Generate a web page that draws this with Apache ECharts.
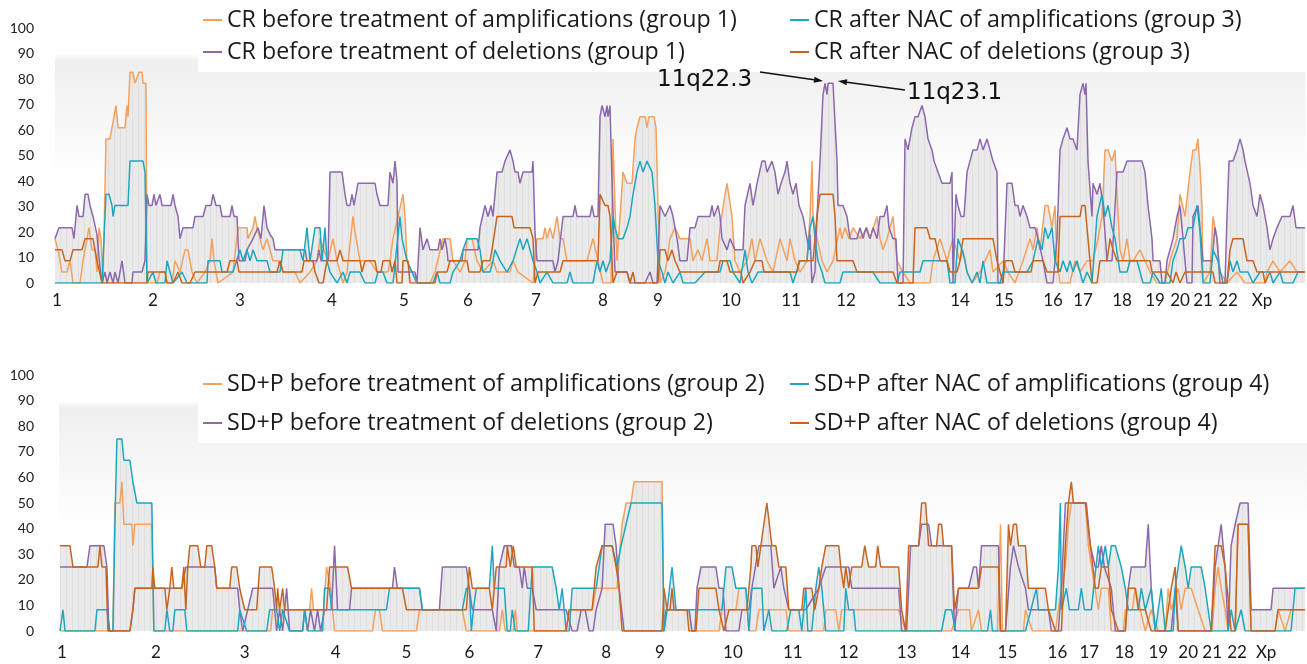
<!DOCTYPE html>
<html><head><meta charset="utf-8">
<script src="https://cdn.jsdelivr.net/npm/echarts@6/dist/echarts.min.js"></script>
<style>html,body{margin:0;padding:0;background:#fff}#c{width:1307px;height:664px}</style>
</head><body><div id="c"></div>
<script>
// ---------- axis ticks / labels ----------
const yTicks = [0,10,20,30,40,50,60,70,80,90,100];
const chromLabels = ['1','2','3','4','5','6','7','8','9','10','11','12','13','14','15','16','17','18','19','20','21','22','Xp'];
const topChromPos = [2,98,185,277,349,413,481,548,603,676,736,791,851,905,949,998,1028,1067,1100,1125,1148,1173,1207];
const bottomChromPos = [3,97,186,277,348,411,480,548,602,675,735,791,849,903,950,1000,1032,1067,1101,1131,1155,1180,1209];

// ---------- series names ----------
const topNames = ['CR before treatment of amplifications (group 1)','CR before treatment of deletions (group 1)','CR after NAC of amplifications (group 3)','CR after NAC of deletions (group 3)'];
const bottomNames = ['SD+P before treatment of amplifications (group 2)','SD+P before treatment of deletions (group 2)','SD+P after NAC of amplifications (group 4)','SD+P after NAC of deletions (group 4)'];

// ---------- top panel data: [genome position, % of patients] ----------
const crAmpBefore = [[0,17.4],[3,13],[7,4.3],[12,4.3],[15,8.7],[18,0],[25,0],[28,8.7],[32,17.4],[34,21.7],[37,13],[40,13],[42,4.3],[44,21.7],[46,17.4],[48,0],[50,0],[51,56.5],[55,56.5],[57,60.9],[61,69.6],[63,60.9],[70,60.9],[72,69.6],[73,65.2],[75,82.6],[78,82.6],[80,78.3],[82,78.3],[84,82.6],[87,82.6],[88,78.3],[91,78.3],[92,0],[102,0],[105,4.3],[110,4.3],[112,0],[117,0],[120,8.7],[125,4.3],[130,13],[133,13],[137,4.3],[142,0],[150,4.3],[155,8.7],[157,17.4],[159,8.7],[163,0],[178,4.3],[183,21.7],[192,21.7],[193,17.4],[198,21.7],[200,26.1],[202,21.7],[205,17.4],[208,13],[212,17.4],[215,13],[218,8.7],[223,8.7],[228,4.3],[240,4.3],[245,0],[255,4.3],[262,8.7],[265,17.4],[273,8.7],[278,17.4],[282,8.7],[288,0],[292,4.3],[298,26.1],[300,20],[305,8.7],[315,8.7],[322,4.3],[333,4.3],[335,8.7],[338,17.4],[343,26.1],[348,34.8],[350,26.1],[352,8.7],[357,4.3],[362,0],[375,0],[380,4.3],[388,17.4],[395,17.4],[398,8.7],[405,4.3],[410,8.7],[412,17.4],[417,17.4],[422,8.7],[428,4.3],[438,8.7],[442,4.3],[455,4.3],[458,8.7],[463,4.3],[478,0],[482,17.4],[488,17.4],[490,21.7],[492,17.4],[495,21.7],[498,17.4],[502,26.1],[505,17.4],[508,17.4],[512,8.7],[532,8.7],[538,17.4],[543,8.7],[548,0],[556,0],[558,56.5],[560,30],[562,8.7],[565,26.1],[568,43.5],[572,39.1],[577,39.1],[580,56.5],[582,60.9],[585,65.2],[590,65.2],[592,60.9],[594,65.2],[599,65.2],[601,60.9],[603,30.4],[605,0],[610,4.3],[612,8.7],[615,17.4],[620,21.7],[625,17.4],[635,17.4],[638,8.7],[643,13],[647,8.7],[652,17.4],[655,8.7],[662,8.7],[665,21.7],[670,34.8],[672,39.1],[674,39.1],[677,26.1],[680,8.7],[685,4.3],[692,8.7],[697,17.4],[700,8.7],[705,17.4],[712,8.7],[718,4.3],[725,17.4],[732,8.7],[735,17.4],[740,8.7],[745,4.3],[752,8.7],[755,26.1],[757,47.8],[758,26.1],[762,17.4],[767,8.7],[772,4.3],[778,8.7],[785,21.7],[787,17.4],[790,21.7],[794,17.4],[798,21.7],[805,17.4],[812,21.7],[815,17.4],[822,26.1],[825,17.4],[828,13],[832,17.4],[838,26.1],[842,8.7],[848,4.3],[855,0],[875,0],[878,8.7],[885,17.4],[892,8.7],[898,17.4],[905,8.7],[908,13],[912,4.3],[917,0],[925,4.3],[935,13],[938,4.3],[948,8.7],[953,4.3],[960,0],[968,8.7],[975,17.4],[978,13],[982,21.7],[985,13],[990,30.4],[993,30.4],[997,21.7],[1000,30.4],[1002,8.7],[1005,0],[1015,0],[1020,8.7],[1025,4.3],[1032,8.7],[1038,8.7],[1043,17.4],[1047,26.1],[1050,52.2],[1053,52.2],[1057,47.8],[1060,52.2],[1062,34.8],[1065,13],[1068,8.7],[1072,17.4],[1075,8.7],[1078,8.7],[1085,13],[1090,8.7],[1095,4.3],[1102,0],[1110,0],[1115,8.7],[1122,17.4],[1125,34.8],[1130,26.1],[1135,43.5],[1138,52.2],[1141,52.2],[1143,56.5],[1145,45],[1147,30.4],[1148,0],[1155,4.3],[1158,26.1],[1162,17.4],[1165,4.3],[1172,0],[1182,4.3],[1190,0],[1210,0],[1212,4.3],[1218,8.7],[1225,4.3],[1235,8.7],[1242,4.3],[1250,4.3]];

const crDelBefore = [[0,17.4],[4,21.7],[17,21.7],[19,17.4],[22,30.4],[24,26.1],[28,26.1],[30,34.8],[33,34.8],[35,30.4],[38,26.1],[42,19],[45,6],[47,0],[50,4.3],[52,0],[55,4.3],[58,0],[60,4.3],[63,0],[67,8.7],[70,0],[77,0],[78,4.3],[87,4.3],[90,8.7],[92,34.8],[94,30.4],[97,30.4],[99,34.8],[101,30.4],[103,30.4],[105,34.8],[107,30.4],[116,30.4],[118,34.8],[120,30.4],[123,26.1],[125,17.4],[128,21.7],[138,21.7],[140,26.1],[148,26.1],[151,30.4],[156,30.4],[158,34.8],[161,30.4],[165,30.4],[167,26.1],[175,26.1],[177,30.4],[179,26.1],[182,26.1],[184,8.7],[190,8.7],[192,13],[198,17.4],[203,21.7],[206,17.4],[209,30.4],[212,21.7],[215,19],[218,17.4],[220,13],[250,13],[252,8.7],[262,8.7],[264,13],[266,8.7],[273,8.7],[275,43.5],[287,43.5],[290,34.8],[292,30.4],[295,30.4],[297,34.8],[299,30.4],[301,34.8],[303,39.1],[320,39.1],[322,34.8],[325,30.4],[333,30.4],[335,43.5],[338,39.1],[340,47.8],[342,40],[343,4.3],[360,4.3],[362,0],[365,21.7],[368,13],[372,17.4],[375,13],[383,13],[385,17.4],[387,13],[390,17.4],[392,13],[393,8.7],[407,8.7],[408,13],[423,13],[425,21.7],[430,30.4],[433,26.1],[436,30.4],[438,26.1],[442,43.5],[447,43.5],[450,47.8],[455,52.2],[458,47.8],[460,43.5],[463,43.5],[465,39.1],[468,43.5],[477,43.5],[478,47.8],[480,20],[482,8.7],[498,8.7],[500,4.3],[503,8.7],[508,26.1],[518,26.1],[520,30.4],[522,26.1],[535,26.1],[537,30.4],[539,26.1],[543,26.1],[545,65.2],[547,69.6],[550,65.2],[552,69.6],[553,65.2],[555,69.6],[557,40],[560,4.3],[572,4.3],[575,0],[590,0],[595,4.3],[598,0],[602,0],[605,30.4],[610,26.1],[615,30.4],[618,26.1],[622,17.4],[625,8.7],[632,8.7],[635,21.7],[640,21.7],[643,26.1],[655,26.1],[657,30.4],[659,26.1],[663,30.4],[665,26.1],[667,17.4],[672,13],[675,17.4],[680,13],[688,13],[690,30.4],[695,39.1],[698,30.4],[702,39.1],[707,47.8],[710,47.8],[712,43.5],[717,47.8],[720,43.5],[723,34.8],[726,39.1],[730,43.5],[732,47.8],[735,39.1],[738,34.8],[741,39.1],[744,30.4],[748,26.1],[752,17.4],[754,13],[755,19],[757,0],[760,4.3],[762,26.1],[765,47.8],[768,73.9],[770,78.3],[772,73.9],[773,78.3],[778,78.3],[782,47.8],[783,30.4],[788,30.4],[792,26.1],[795,17.4],[802,17.4],[805,21.7],[808,17.4],[811,21.7],[815,17.4],[818,21.7],[822,17.4],[825,26.1],[829,26.1],[832,30.4],[834,21.7],[838,17.4],[841,17.4],[843,0],[848,0],[850,56.5],[853,52.2],[857,60.9],[860,65.2],[863,65.2],[867,69.6],[870,65.2],[873,56.5],[877,52.2],[879,47.8],[883,43.5],[887,39.1],[895,39.1],[897,43.5],[898,0],[900,0],[901,34.8],[903,30.4],[906,26.1],[909,26.1],[912,43.5],[918,52.2],[922,52.2],[925,56.5],[928,52.2],[932,56.5],[935,52.2],[938,47.8],[942,43.5],[943,0],[948,0],[952,39.1],[957,39.1],[960,30.4],[963,30.4],[965,26.1],[968,30.4],[972,26.1],[975,21.7],[980,21.7],[983,17.4],[988,8.7],[992,0],[998,0],[1002,17.4],[1005,52.2],[1008,56.5],[1012,60.9],[1015,56.5],[1018,56.5],[1022,52.2],[1025,73.9],[1028,78.3],[1030,73.9],[1031,78.3],[1033,47.8],[1037,26.1],[1038,39.1],[1042,34.8],[1045,39.1],[1048,30.4],[1052,8.7],[1057,8.7],[1062,43.5],[1068,43.5],[1072,47.8],[1087,47.8],[1090,43.5],[1093,30.4],[1097,17.4],[1098,8.7],[1105,8.7],[1107,0],[1110,0],[1112,8.7],[1118,17.4],[1122,26.1],[1125,30.4],[1128,17.4],[1132,0],[1137,0],[1138,26.1],[1143,30.4],[1148,8.7],[1157,8.7],[1160,21.7],[1162,17.4],[1165,0],[1170,0],[1172,26.1],[1174,47.8],[1178,47.8],[1182,52.2],[1185,56.5],[1188,52.2],[1190,47.8],[1195,39.1],[1198,30.4],[1202,26.1],[1205,34.8],[1208,30.4],[1212,21.7],[1215,13],[1218,17.4],[1222,21.7],[1227,26.1],[1235,26.1],[1238,30.4],[1241,21.7],[1250,21.7]];

const crAmpAfter = [[0,0],[47,0],[51,34.8],[54,34.8],[57,30.4],[58,26.1],[60,30.4],[73,30.4],[75,47.8],[88,47.8],[90,43.5],[92,0],[98,4.3],[101,0],[110,0],[112,8.7],[115,4.3],[118,0],[127,4.3],[132,0],[152,0],[153,8.7],[165,8.7],[167,4.3],[178,4.3],[185,13],[188,8.7],[192,13],[195,8.7],[198,13],[202,8.7],[212,8.7],[215,4.3],[225,4.3],[228,13],[245,13],[248,8.7],[252,21.7],[255,8.7],[260,21.7],[265,21.7],[267,8.7],[270,21.7],[272,8.7],[275,4.3],[282,0],[288,4.3],[292,0],[295,4.3],[305,4.3],[310,0],[320,0],[323,4.3],[328,4.3],[332,0],[338,0],[345,26.1],[347,17.4],[352,8.7],[357,4.3],[362,0],[378,0],[382,4.3],[385,0],[395,0],[398,4.3],[405,8.7],[408,13],[412,17.4],[422,17.4],[425,13],[428,4.3],[435,4.3],[438,8.7],[440,13],[445,8.7],[452,4.3],[458,8.7],[465,17.4],[468,13],[472,17.4],[478,8.7],[482,4.3],[485,0],[492,4.3],[498,0],[512,0],[515,4.3],[518,0],[538,0],[542,8.7],[545,4.3],[548,8.7],[551,4.3],[555,8.7],[558,26.1],[560,21.7],[563,17.4],[568,17.4],[572,21.7],[575,26.1],[578,34.8],[582,43.5],[585,47.8],[588,43.5],[592,47.8],[597,43.5],[600,30.4],[603,8.7],[607,4.3],[610,0],[613,4.3],[618,0],[625,4.3],[628,0],[640,0],[650,4.3],[665,4.3],[668,8.7],[675,8.7],[678,4.3],[685,0],[690,13],[693,4.3],[697,0],[703,4.3],[735,4.3],[738,0],[745,8.7],[752,8.7],[755,21.7],[758,26.1],[760,17.4],[763,8.7],[767,4.3],[770,0],[785,0],[788,4.3],[818,4.3],[825,0],[842,0],[845,4.3],[865,4.3],[868,8.7],[892,8.7],[895,0],[900,0],[903,17.4],[907,13],[910,8.7],[912,4.3],[917,0],[922,4.3],[925,0],[928,8.7],[932,0],[945,0],[948,4.3],[972,4.3],[978,8.7],[983,17.4],[987,13],[990,21.7],[993,17.4],[997,21.7],[1000,8.7],[1005,4.3],[1008,8.7],[1012,4.3],[1015,8.7],[1018,4.3],[1022,8.7],[1025,4.3],[1028,0],[1032,4.3],[1037,0],[1042,26.1],[1047,34.8],[1050,26.1],[1053,30.4],[1057,21.7],[1060,17.4],[1065,4.3],[1072,4.3],[1075,8.7],[1082,8.7],[1085,4.3],[1088,0],[1095,0],[1098,4.3],[1105,0],[1115,0],[1118,8.7],[1122,13],[1125,17.4],[1130,17.4],[1133,21.7],[1138,21.7],[1142,30.4],[1145,20],[1148,0],[1155,0],[1158,13],[1163,8.7],[1168,0],[1172,0],[1175,8.7],[1178,4.3],[1182,8.7],[1185,4.3],[1193,4.3],[1198,0],[1205,4.3],[1215,4.3],[1218,0],[1225,4.3],[1228,0],[1238,0],[1243,4.3],[1250,4.3]];

const crDelAfter = [[0,13],[7,13],[10,8.7],[15,8.7],[18,13],[27,13],[30,17.4],[38,17.4],[42,8.7],[47,0],[92,0],[93,4.3],[110,4.3],[112,0],[118,0],[123,4.3],[127,0],[135,0],[140,4.3],[172,4.3],[175,8.7],[182,8.7],[184,4.3],[222,4.3],[225,8.7],[228,4.3],[247,4.3],[249,8.7],[258,8.7],[260,4.3],[264,0],[268,0],[272,8.7],[282,8.7],[285,13],[288,8.7],[305,8.7],[307,4.3],[310,8.7],[320,8.7],[322,4.3],[326,4.3],[328,8.7],[335,8.7],[337,4.3],[340,8.7],[342,0],[347,0],[348,8.7],[353,8.7],[355,0],[380,0],[382,4.3],[392,4.3],[395,8.7],[412,8.7],[414,4.3],[425,4.3],[428,8.7],[435,8.7],[437,13],[442,26.1],[457,26.1],[459,21.7],[475,21.7],[478,17.4],[480,0],[483,4.3],[505,4.3],[508,8.7],[543,8.7],[545,34.8],[550,30.4],[553,30.4],[555,26.1],[558,0],[562,4.3],[572,4.3],[575,0],[578,4.3],[580,0],[603,0],[605,13],[610,13],[613,8.7],[617,13],[620,8.7],[625,4.3],[663,4.3],[665,8.7],[672,8.7],[675,4.3],[686,4.3],[688,0],[695,4.3],[700,8.7],[707,8.7],[709,4.3],[742,4.3],[744,8.7],[758,8.7],[762,26.1],[765,34.8],[778,34.8],[780,26.1],[782,8.7],[798,8.7],[802,4.3],[838,4.3],[842,0],[858,0],[860,21.7],[872,21.7],[875,17.4],[880,17.4],[885,8.7],[892,8.7],[895,4.3],[902,4.3],[905,8.7],[908,17.4],[938,17.4],[942,8.7],[945,4.3],[948,0],[950,8.7],[957,8.7],[960,4.3],[976,4.3],[978,8.7],[988,8.7],[992,4.3],[1003,4.3],[1005,26.1],[1025,26.1],[1027,30.4],[1030,30.4],[1033,17.4],[1037,0],[1042,0],[1045,8.7],[1052,8.7],[1055,17.4],[1058,13],[1062,8.7],[1095,8.7],[1097,4.3],[1112,4.3],[1118,0],[1121,4.3],[1125,0],[1130,4.3],[1158,4.3],[1160,0],[1172,0],[1175,13],[1178,17.4],[1188,17.4],[1192,8.7],[1198,8.7],[1202,4.3],[1208,4.3],[1210,0],[1215,4.3],[1250,4.3]];

// ---------- bottom panel data ----------
const sdAmpBefore = [[1,0],[46,0],[54,0],[56,50],[61,50],[63,58.3],[65,41.7],[73,41.7],[74,33.3],[76,41.7],[93,41.7],[95,0],[212,0],[214,8.3],[251,8.3],[253,16.7],[255,8.3],[265,8.3],[268,25],[272,16.7],[276,0],[314,0],[317,8.3],[321,8.3],[324,0],[358,0],[361,8.3],[404,8.3],[408,0],[441,0],[444,8.3],[447,0],[455,0],[457,8.3],[459,0],[508,0],[511,8.3],[534,8.3],[538,16.7],[559,16.7],[562,33.3],[564,41.7],[568,50],[573,50],[576,58.3],[604,58.3],[606,0],[609,8.3],[631,8.3],[634,0],[661,0],[664,8.3],[678,8.3],[681,16.7],[688,16.7],[691,0],[698,0],[701,8.3],[728,8.3],[731,0],[766,0],[768,8.3],[778,8.3],[781,0],[784,8.3],[841,8.3],[848,0],[894,0],[901,8.3],[912,8.3],[914,0],[921,8.3],[924,0],[940,0],[943,41.7],[945,0],[966,0],[968,8.3],[975,0],[998,0],[1001,8.3],[1004,16.7],[1008,25],[1011,41.7],[1014,50],[1028,50],[1031,33.3],[1041,8.3],[1044,16.7],[1051,16.7],[1054,0],[1066,0],[1068,8.3],[1075,8.3],[1078,16.7],[1083,8.3],[1088,0],[1094,8.3],[1101,0],[1108,0],[1111,16.7],[1114,8.3],[1121,16.7],[1124,8.3],[1128,16.7],[1134,16.7],[1141,8.3],[1148,0],[1155,0],[1158,16.7],[1161,25],[1164,16.7],[1168,8.3],[1171,0],[1178,0],[1181,41.7],[1191,41.7],[1194,0],[1218,0],[1221,8.3],[1228,0],[1234,8.3],[1248,8.3]];

const sdDelBefore = [[1,25],[28,25],[31,33.3],[45,33.3],[48,25],[50,0],[71,0],[74,8.3],[76,16.7],[123,16.7],[127,25],[156,25],[158,16.7],[179,16.7],[181,8.3],[184,0],[189,8.3],[194,16.7],[214,16.7],[218,0],[221,8.3],[224,0],[228,16.7],[231,0],[244,0],[246,8.3],[249,0],[252,8.3],[256,0],[259,8.3],[262,0],[266,8.3],[273,8.3],[276,33.3],[279,8.3],[291,8.3],[293,16.7],[334,16.7],[336,25],[339,16.7],[361,16.7],[364,8.3],[381,8.3],[384,25],[408,25],[411,16.7],[414,8.3],[434,8.3],[438,0],[441,25],[446,33.3],[453,33.3],[456,25],[461,25],[464,16.7],[466,25],[469,16.7],[474,16.7],[478,8.3],[508,8.3],[514,0],[519,0],[523,8.3],[527,8.3],[531,0],[535,0],[538,8.3],[544,16.7],[547,41.7],[555,41.7],[558,33.3],[561,16.7],[566,0],[606,0],[608,8.3],[631,8.3],[634,0],[637,0],[639,16.7],[643,25],[658,25],[661,16.7],[665,16.7],[668,0],[681,0],[684,8.3],[691,8.3],[694,16.7],[701,33.3],[713,33.3],[716,16.7],[718,16.7],[723,25],[726,16.7],[731,8.3],[748,8.3],[761,16.7],[768,25],[791,25],[794,16.7],[841,16.7],[844,0],[849,0],[853,33.3],[861,33.3],[864,41.7],[871,41.7],[874,33.3],[894,33.3],[897,0],[901,16.7],[911,16.7],[916,25],[919,25],[921,16.7],[924,33.3],[941,33.3],[943,0],[948,0],[953,25],[956,33.3],[961,25],[968,16.7],[971,8.3],[991,8.3],[994,0],[1001,0],[1004,16.7],[1008,50],[1029,50],[1033,33.3],[1038,25],[1041,25],[1044,33.3],[1047,25],[1054,16.7],[1058,0],[1068,0],[1071,16.7],[1074,25],[1088,25],[1091,41.7],[1094,16.7],[1098,0],[1114,0],[1118,16.7],[1121,0],[1154,0],[1158,25],[1161,33.3],[1164,41.7],[1168,25],[1171,0],[1174,33.3],[1178,41.7],[1183,50],[1191,50],[1194,8.3],[1214,8.3],[1216,16.7],[1248,16.7]];

const sdAmpAfter = [[1,0],[4,8.3],[6,0],[36,0],[38,8.3],[48,8.3],[51,0],[54,0],[56,41.7],[58,75],[63,75],[65,66.7],[71,66.7],[74,58.3],[76,58.3],[78,50],[93,50],[95,0],[106,0],[108,8.3],[111,0],[114,0],[116,8.3],[126,8.3],[128,0],[179,0],[181,8.3],[188,0],[208,0],[211,8.3],[218,8.3],[221,0],[224,8.3],[231,0],[244,0],[246,8.3],[249,0],[264,0],[266,16.7],[271,16.7],[273,8.3],[328,8.3],[331,16.7],[361,16.7],[364,8.3],[404,8.3],[408,16.7],[411,16.7],[413,0],[415,8.3],[418,16.7],[431,16.7],[434,33.3],[436,16.7],[446,16.7],[449,0],[452,0],[454,8.3],[457,0],[470,0],[474,25],[494,25],[498,16.7],[501,8.3],[504,16.7],[508,0],[511,0],[514,16.7],[538,16.7],[541,25],[544,33.3],[554,33.3],[559,25],[563,33.3],[568,41.7],[573,50],[604,50],[606,0],[609,8.3],[614,25],[618,8.3],[664,8.3],[668,25],[674,25],[678,16.7],[688,16.7],[691,0],[694,16.7],[704,16.7],[706,0],[711,8.3],[714,0],[729,0],[733,8.3],[741,8.3],[744,0],[748,16.7],[750,0],[754,0],[758,16.7],[761,25],[764,16.7],[768,0],[786,0],[788,16.7],[791,8.3],[796,8.3],[798,0],[884,0],[888,8.3],[894,8.3],[898,0],[930,0],[933,8.3],[935,0],[968,0],[979,16.7],[981,8.3],[998,8.3],[1001,25],[1003,50],[1004,8.3],[1009,16.7],[1012,8.3],[1021,8.3],[1024,16.7],[1027,8.3],[1034,8.3],[1041,33.3],[1044,25],[1048,33.3],[1051,25],[1054,33.3],[1058,33.3],[1064,25],[1068,16.7],[1071,8.3],[1081,8.3],[1084,16.7],[1088,8.3],[1094,16.7],[1098,0],[1101,8.3],[1104,16.7],[1108,0],[1116,0],[1118,16.7],[1121,25],[1124,33.3],[1128,25],[1131,16.7],[1134,25],[1144,25],[1148,16.7],[1151,8.3],[1154,0],[1171,0],[1174,8.3],[1178,0],[1184,8.3],[1188,0],[1234,0],[1238,16.7],[1248,16.7]];

const sdDelAfter = [[1,33.3],[11,33.3],[14,25],[39,25],[41,33.3],[43,25],[47,25],[49,0],[71,0],[74,8.3],[76,16.7],[93,16.7],[94,25],[96,16.7],[106,16.7],[108,8.3],[111,16.7],[113,25],[115,16.7],[123,16.7],[125,25],[127,8.3],[129,25],[131,33.3],[139,33.3],[142,25],[146,25],[148,33.3],[153,33.3],[156,25],[158,16.7],[171,16.7],[173,25],[178,25],[181,16.7],[186,8.3],[198,8.3],[201,25],[213,25],[216,16.7],[218,8.3],[219,16.7],[221,8.3],[224,16.7],[226,8.3],[268,8.3],[271,25],[289,25],[293,16.7],[344,16.7],[348,8.3],[408,8.3],[411,25],[414,16.7],[431,16.7],[434,8.3],[438,25],[448,25],[449,33.3],[452,25],[455,33.3],[458,25],[474,25],[476,0],[508,0],[511,8.3],[534,8.3],[538,25],[544,33.3],[554,33.3],[558,25],[561,16.7],[564,0],[604,0],[606,16.7],[609,8.3],[612,8.3],[614,16.7],[616,8.3],[629,8.3],[631,0],[638,0],[641,16.7],[658,16.7],[661,8.3],[666,0],[668,0],[671,8.3],[689,8.3],[693,25],[694,33.3],[698,33.3],[700,25],[703,33.3],[706,41.7],[709,50],[711,50],[714,33.3],[718,33.3],[721,25],[728,25],[731,8.3],[744,8.3],[746,16.7],[754,16.7],[757,8.3],[761,16.7],[764,25],[768,33.3],[781,33.3],[783,25],[786,16.7],[788,25],[791,16.7],[794,25],[804,25],[807,33.3],[811,25],[818,25],[820,33.3],[823,25],[841,25],[844,8.3],[848,0],[849,0],[851,33.3],[861,33.3],[864,50],[868,50],[871,33.3],[879,33.3],[881,41.7],[884,41.7],[886,33.3],[894,33.3],[897,8.3],[901,16.7],[921,16.7],[924,25],[941,25],[943,0],[948,0],[951,41.7],[953,33.3],[956,41.7],[959,41.7],[961,33.3],[968,33.3],[971,16.7],[988,16.7],[991,8.3],[998,0],[1004,0],[1008,33.3],[1011,50],[1014,58.3],[1016,50],[1028,50],[1033,33.3],[1038,16.7],[1041,16.7],[1044,25],[1051,25],[1054,8.3],[1061,0],[1068,0],[1071,16.7],[1078,16.7],[1081,8.3],[1088,8.3],[1094,0],[1108,0],[1114,16.7],[1118,25],[1121,0],[1154,0],[1158,33.3],[1164,33.3],[1168,25],[1174,0],[1178,0],[1181,41.7],[1191,41.7],[1194,0],[1218,0],[1221,8.3],[1248,8.3]];

// ---------- styling ----------
const colors = ['#f5a15c', '#8c68ad', '#1ea7c1', '#c7651f'];
const FONT = 'Lato, "Noto Sans", sans-serif';
const LEGEND_FONT = '"Open Sans", "Noto Sans", sans-serif';

const pc = document.createElement('canvas');
pc.width = 6; pc.height = 4;
const pg = pc.getContext('2d');
pg.fillStyle = '#eaeaea'; pg.fillRect(0, 0, 6, 4);
pg.fillStyle = '#dfdfdf'; pg.fillRect(0, 0, 1, 4);
const areaPattern = { image: pc, repeat: 'repeat' };

function bg() {
  return new echarts.graphic.LinearGradient(0, 0, 0, 1, [
    { offset: 0, color: '#ffffff' },
    { offset: 0.1, color: '#ffffff' },
    { offset: 0.13, color: '#efefef' },
    { offset: 0.6, color: '#ffffff' },
    { offset: 1, color: '#ffffff' }
  ]);
}

function xAxis(gi, pos) {
  return {
    type: 'value', gridIndex: gi, min: 0, max: 1250,
    axisLine: { show: false }, axisTick: { show: false }, splitLine: { show: false },
    axisLabel: {
      customValues: pos, margin: gi === 0 ? 9 : 13,
      color: '#1a1a1a', fontSize: 17, fontFamily: FONT,
      formatter: v => { const i = pos.indexOf(v); return i >= 0 ? chromLabels[i] : ''; }
    }
  };
}
function yAxis(gi) {
  return {
    type: 'value', gridIndex: gi, min: 0, max: 100, interval: 10,
    axisLine: { show: false }, axisTick: { show: false }, splitLine: { show: false },
    axisLabel: { margin: gi === 0 ? 21 : 25, color: '#222', fontSize: 14, fontFamily: FONT,
      customValues: yTicks }
  };
}

const series = [];
function addPanel(gi, names, datas) {
  datas.forEach((d, i) => {
    series.push({
      name: names[i] + ' area', type: 'line', xAxisIndex: gi, yAxisIndex: gi, data: d,
      symbol: 'none', silent: true, z: 1,
      lineStyle: { width: 0 }, areaStyle: { color: areaPattern, opacity: 1 }
    });
  });
  datas.forEach((d, i) => {
    series.push({
      name: names[i], type: 'line', xAxisIndex: gi, yAxisIndex: gi, data: d,
      symbol: 'none', z: 3, color: colors[i],
      lineStyle: { width: 1.5, color: colors[i] }
    });
  });
}
addPanel(0, topNames, [crAmpBefore, crDelBefore, crAmpAfter, crDelAfter]);
addPanel(1, bottomNames, [sdAmpBefore, sdDelBefore, sdAmpAfter, sdDelAfter]);

function legend(left, top, names, gap, padRight) {
  return {
    left: left, top: top, orient: 'vertical', icon: 'rect', itemWidth: 19, itemHeight: 2,
    itemGap: gap, itemTextGap: 5, padding: [4, padRight, 8, 5], backgroundColor: '#fff',
    selectedMode: false,
    textStyle: { fontSize: 23.2, color: '#1a1a1a', fontFamily: LEGEND_FONT, lineHeight: 24 },
    data: names
  };
}

const chart = echarts.init(document.getElementById('c'), null, { renderer: 'canvas' });

function arrow(x1, y1, x2, y2) {
  const dx = x2 - x1, dy = y2 - y1, L = Math.hypot(dx, dy), ux = dx / L, uy = dy / L;
  const bx = x2 - 9 * ux, by = y2 - 9 * uy, px = -uy * 3, py = ux * 3;
  return [
    { type: 'line', z: 50, shape: { x1: x1, y1: y1, x2: bx, y2: by }, style: { stroke: '#111', lineWidth: 1.4 } },
    { type: 'polygon', z: 50, shape: { points: [[x2, y2], [bx + px, by + py], [bx - px, by - py]] }, style: { fill: '#111' } }
  ];
}

chart.setOption({
  animation: false,
  backgroundColor: '#fff',
  grid: [
    { left: 55, right: 2, top: 28, height: 255, show: true, backgroundColor: bg(), borderWidth: 0 },
    { left: 59, right: 0, top: 375, height: 256, show: true, backgroundColor: bg(), borderWidth: 0 }
  ],
  xAxis: [xAxis(0, topChromPos), xAxis(1, bottomChromPos)],
  yAxis: [yAxis(0), yAxis(1)],
  legend: [
    legend(198, 4, [topNames[0], topNames[1]], 8, 55),
    legend(785, 4, [topNames[2], topNames[3]], 8, 70),
    legend(198, 368, [bottomNames[0], bottomNames[1]], 15, 25),
    legend(785, 368, [bottomNames[2], bottomNames[3]], 15, 45)
  ],
  graphic: [
    { type: 'text', z: 50, style: { text: '11q22.3', x: 657, y: 80, verticalAlign: 'middle', align: 'left', fontSize: 23, fontFamily: '"DejaVu Sans", sans-serif', fill: '#111' } },
    { type: 'text', z: 50, style: { text: '11q23.1', x: 907, y: 93, verticalAlign: 'middle', align: 'left', fontSize: 23, fontFamily: '"DejaVu Sans", sans-serif', fill: '#111' } },
    ...arrow(760, 72, 823, 81),
    ...arrow(905, 90, 838, 81)
  ],
  series: series
});
</script>
</body></html>
